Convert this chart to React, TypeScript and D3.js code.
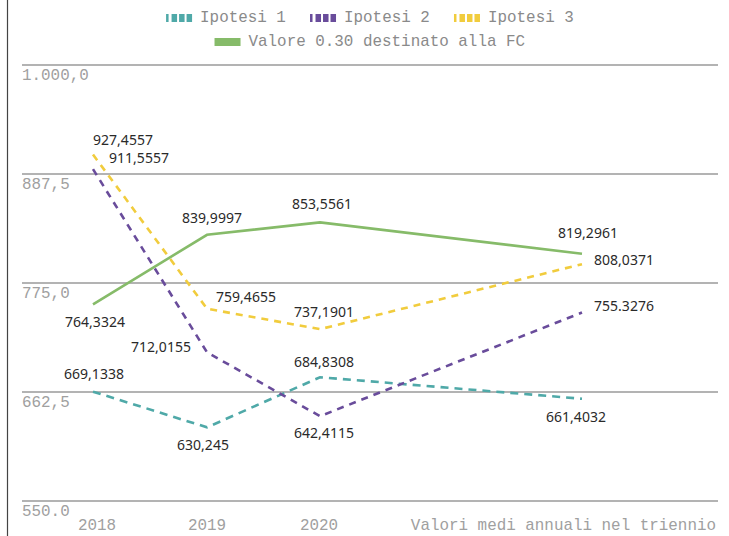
import React from "react";
import * as d3 from "d3";

const categories = ["2018", "2019", "2020", "Valori medi annuali nel triennio"];
const ipotesi1 = [669.1338, 630.245, 684.8308, 661.4032];
const ipotesi2 = [911.5557, 712.0155, 642.4115, 755.3276];
const ipotesi3 = [927.4557, 759.4655, 737.1901, 808.0371];
const valoreFC = [764.3324, 839.9997, 853.5561, 819.2961];
const ipotesi1Labels = ["669,1338", "630,245", "684,8308", "661,4032"];
const ipotesi2Labels = ["911,5557", "712,0155", "642,4115", "755.3276"];
const ipotesi3Labels = ["927,4557", "759,4655", "737,1901", "808,0371"];
const valoreLabels = ["764,3324", "839,9997", "853,5561", "819,2961"];
const yTickLabels = ["550.0", "662,5", "775,0", "887,5", "1.000,0"];
const yDomain = [550, 1025];

// styling / layout (not data)
const W = 729;
const H = 536;
const plotLeft = 22;
const plotRight = 718;
const xSlots = [93, 207, 320, 582];
const xLabelShift = [4, 0, -1, 0];
const series = [
  { name: "Ipotesi 1", values: ipotesi1, labels: ipotesi1Labels, color: "#4fa9a8", dash: "8,6",
    offsets: [[1, -18], [-4, 17], [4, -16], [-6, 18]] },
  { name: "Ipotesi 2", values: ipotesi2, labels: ipotesi2Labels, color: "#694c9b", dash: "7,6",
    offsets: [[46, -12], [-46, -6], [4, 16], [42, -7]] },
  { name: "Ipotesi 3", values: ipotesi3, labels: ipotesi3Labels, color: "#f1cc3d", dash: "7,6",
    offsets: [[30, -15], [39, -12], [4, -18], [42, -5]] },
  { name: "Valore 0.30 destinato alla FC", values: valoreFC, labels: valoreLabels, color: "#86bb69", dash: null,
    offsets: [[2, 17], [5, -17], [2, -19], [6, -21]] },
];

const mono = "'Liberation Mono', 'DejaVu Sans Mono', monospace";
const sans = "'Noto Sans', 'Open Sans', sans-serif";

export default function App() {
  const x = d3.scaleOrdinal<string, number>().domain(categories).range(xSlots);
  const y = d3.scaleLinear().domain(yDomain).range([501, 65]);
  const gridVals = d3.range(0, yTickLabels.length).map(
    (i) => yDomain[0] + (i * (yDomain[1] - yDomain[0])) / (yTickLabels.length - 1)
  );
  const line = d3
    .line<number>()
    .x((_, i) => x(categories[i]))
    .y((d) => y(d));

  const charW = 9.55;
  const fs = 15.9;
  const symW = 26;
  const symGap = 8;
  const itemGap = 24;
  const centerX = (plotLeft + plotRight) / 2;
  const rows = [series.slice(0, 3), series.slice(3)];
  const rowY = [18, 42];

  return (
    <svg width={W} height={H} style={{ position: "fixed", left: 0, top: 0, background: "#fff" }}>
      <line x1={7.5} x2={7.5} y1={0} y2={H} stroke="#444" strokeWidth={1.2} />
      {/* legend */}
      {rows.map((row, ri) => {
        const widths = row.map((s) => symW + symGap + s.name.length * charW);
        const total = d3.sum(widths) + itemGap * (row.length - 1);
        let cx = centerX - total / 2;
        return row.map((s, i) => {
          const x0 = cx;
          cx += widths[i] + itemGap;
          const cy = rowY[ri];
          return (
            <g key={s.name}>
              {s.dash ? (
                <line x1={x0} x2={x0 + symW} y1={cy} y2={cy} stroke={s.color} strokeWidth={8}
                  strokeDasharray="2.5,3,5.5,2,5.5,2,5.5" />
              ) : (
                <rect x={x0} y={cy - 4} width={symW} height={8} fill={s.color} />
              )}
              <text x={x0 + symW + symGap} y={cy} dominantBaseline="central" fontFamily={mono}
                fontSize={fs} fill="#8a8a8a">{s.name}</text>
            </g>
          );
        });
      })}
      {/* grid + y labels */}
      {gridVals.map((v, i) => (
        <g key={i}>
          <line x1={plotLeft} x2={plotRight} y1={y(v)} y2={y(v)} stroke="#9a9a9a" strokeWidth={1.3} />
          <text x={plotLeft} y={y(v) + 11} dominantBaseline="central" fontFamily={mono} fontSize={fs}
            fill="#a0a0a0">{yTickLabels[i]}</text>
        </g>
      ))}
      {/* x labels */}
      {categories.map((c, i) => {
        const last = i === categories.length - 1;
        return (
          <text key={c} x={last ? plotRight - 2 : x(c) + xLabelShift[i]} y={526} dominantBaseline="central"
            textAnchor={last ? "end" : "middle"} fontFamily={mono} fontSize={fs} fill="#a0a0a0">{c}</text>
        );
      })}
      {/* lines */}
      {series.map((s) => (
        <path key={s.name} d={line(s.values) || ""} fill="none" stroke={s.color} strokeWidth={2.6}
          strokeDasharray={s.dash || undefined} />
      ))}
      {/* data labels */}
      {series.map((s) =>
        s.values.map((v, i) => (
          <text key={s.name + i} x={x(categories[i]) + s.offsets[i][0]} y={y(v) + s.offsets[i][1]}
            textAnchor="middle" dominantBaseline="central" fontFamily={sans} fontSize={14} fill="#2a2a2a">
            {s.labels[i]}
          </text>
        ))
      )}
    </svg>
  );
}
